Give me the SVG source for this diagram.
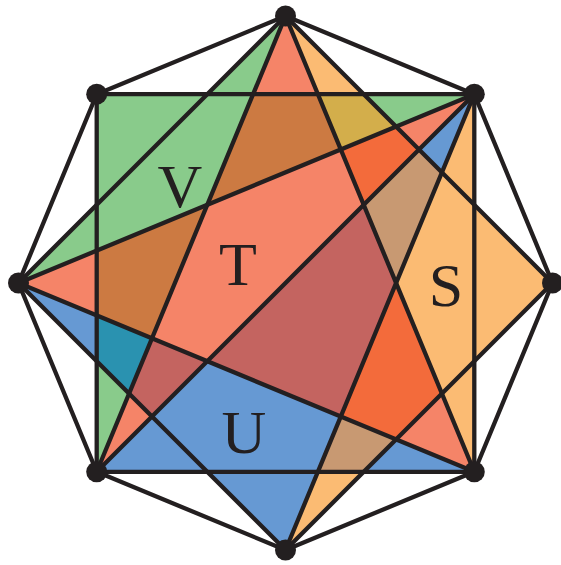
<svg xmlns="http://www.w3.org/2000/svg" width="561" height="565" viewBox="0 0 561 565">
<style>
.ln{fill:none;stroke:#231F20;stroke-width:4.3;stroke-linejoin:round;stroke-linecap:round}
.dot{fill:#231F20}
.lbl{font-family:"Liberation Serif","DejaVu Serif",serif;font-size:62px;fill:#231F20;text-anchor:middle}
</style>
<defs>
<path id="shG" d="M285.5,16 L253.1,94.2 L474.3,94.2 L207.3,204.8 L96.7,471.8 L96.7,250.6 L18.5,283 L96.7,204.8 L96.7,94.2 L207.3,94.2 Z"/>
<path id="shT" d="M285.5,16 L474.3,471.8 L18.5,283 L207.3,204.8 Z M474.3,94.2 L96.7,471.8 L207.3,204.8 Z"/>
<path id="shS" d="M285.5,16 L552.5,283 L285.5,550 L396.1,283 Z M474.3,94.2 L474.3,471.8 L396.1,283 Z"/>
<path id="shU" d="M474.3,94.2 L285.5,550 L18.5,283 L207.3,361.2 Z M96.7,471.8 L207.3,361.2 L474.3,471.8 Z"/>
<clipPath id="cG"><path d="M285.5,16 L253.1,94.2 L474.3,94.2 L207.3,204.8 L96.7,471.8 L96.7,250.6 L18.5,283 L96.7,204.8 L96.7,94.2 L207.3,94.2 Z"/></clipPath>
<clipPath id="cT"><path d="M285.5,16 L474.3,471.8 L18.5,283 L207.3,204.8 Z M474.3,94.2 L96.7,471.8 L207.3,204.8 Z"/></clipPath>
<clipPath id="cS"><path d="M285.5,16 L552.5,283 L285.5,550 L396.1,283 Z M474.3,94.2 L474.3,471.8 L396.1,283 Z"/></clipPath>
</defs>
<g id="regions">
<g id="V"><use href="#shG" fill="#89CB8B"/></g>
<g id="T"><use href="#shT" fill="#F58468"/></g>
<g id="S"><use href="#shS" fill="#FBBB73"/></g>
<g id="U"><use href="#shU" fill="#6699D3"/></g>
<g id="overlaps">
<use href="#shT" fill="#CC7A42" clip-path="url(#cG)"/>
<use href="#shS" fill="#D3AE4B" clip-path="url(#cG)"/>
<use href="#shU" fill="#2A92B0" clip-path="url(#cG)"/>
<use href="#shS" fill="#F36B3B" clip-path="url(#cT)"/>
<use href="#shU" fill="#C46460" clip-path="url(#cT)"/>
<use href="#shU" fill="#C89972" clip-path="url(#cS)"/>
</g>
</g>
<g id="connectors" class="ln">
<polygon points="285.5,16 474.3,94.2 552.5,283 474.3,471.8 285.5,550 96.7,471.8 18.5,283 96.7,94.2"/>
<polygon points="474.3,94.2 474.3,471.8 96.7,471.8 96.7,94.2"/>
<polygon points="285.5,16 552.5,283 285.5,550 18.5,283"/>
<line x1="285.5" y1="16" x2="474.3" y2="471.8"/>
<line x1="285.5" y1="16" x2="96.7" y2="471.8"/>
<line x1="474.3" y1="94.2" x2="285.5" y2="550"/>
<line x1="474.3" y1="94.2" x2="18.5" y2="283"/>
<line x1="18.5" y1="283" x2="474.3" y2="471.8"/>
<line x1="474.3" y1="94.2" x2="96.7" y2="471.8"/>
</g>
<g id="vertices">
<g id="p0"><circle class="dot" cx="285.5" cy="16" r="10.5"/></g>
<g id="p1"><circle class="dot" cx="474.3" cy="94.2" r="10.5"/></g>
<g id="p2"><circle class="dot" cx="552.5" cy="283" r="10.5"/></g>
<g id="p3"><circle class="dot" cx="474.3" cy="471.8" r="10.5"/></g>
<g id="p4"><circle class="dot" cx="285.5" cy="550" r="10.5"/></g>
<g id="p5"><circle class="dot" cx="96.7" cy="471.8" r="10.5"/></g>
<g id="p6"><circle class="dot" cx="18.5" cy="283" r="10.5"/></g>
<g id="p7"><circle class="dot" cx="96.7" cy="94.2" r="10.5"/></g>
</g>
<g id="labels">
<text class="lbl" x="180" y="207">V</text>
<text class="lbl" x="238" y="285">T</text>
<text class="lbl" x="446" y="306">S</text>
<text class="lbl" x="244" y="453">U</text>
</g>
</svg>
